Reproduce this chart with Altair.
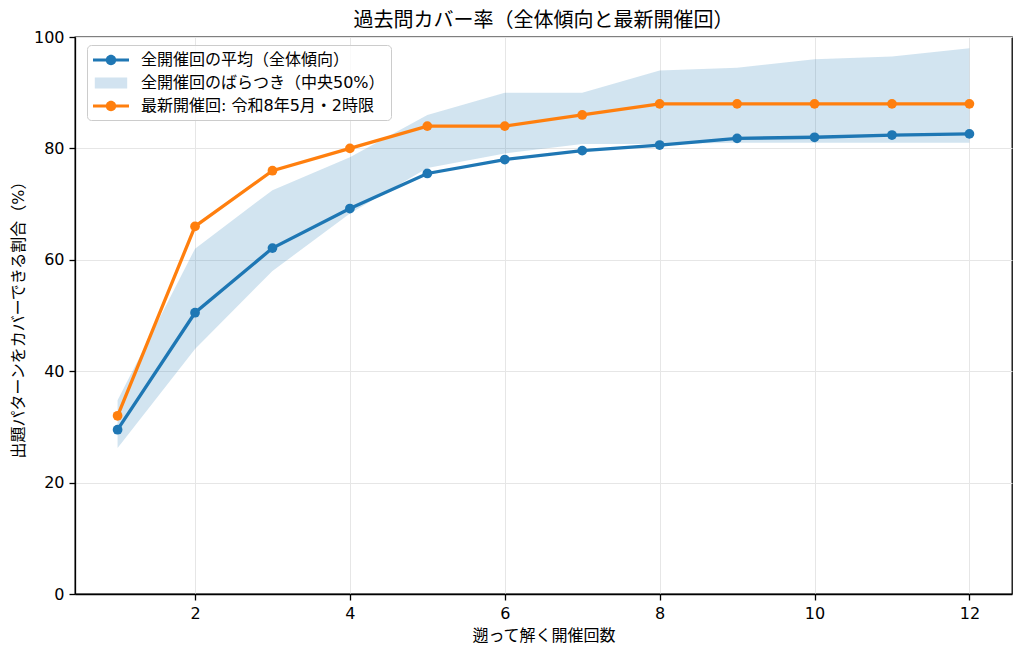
import altair as alt
import pandas as pd

# ---- data ----
kaisu = [1, 2, 3, 4, 5, 6, 7, 8, 9, 10, 11, 12]
mean_vals = [29.5, 50.5, 62.1, 69.2, 75.5, 78.0, 79.6, 80.6, 81.8, 82.0, 82.4, 82.6]
band_low = [26.2, 44.0, 58.0, 68.3, 76.5, 79.1, 80.8, 80.8, 81.0, 81.0, 81.0, 81.0]
band_high = [34.8, 62.0, 72.5, 78.4, 86.0, 90.0, 90.0, 94.0, 94.5, 96.0, 96.5, 98.0]
latest_vals = [32, 66, 76, 80, 84, 84, 86, 88, 88, 88, 88, 88]

series_names = [
    "全開催回の平均（全体傾向）",
    "全開催回のばらつき（中央50%）",
    "最新開催回: 令和8年5月・2時限",
]
series_colors = ["#1f77b4", "#d2e3f0", "#ff7f0e"]
x_ticks = [2, 4, 6, 8, 10, 12]
y_ticks = [0, 20, 40, 60, 80, 100]

TITLE = "過去問カバー率（全体傾向と最新開催回）"
X_TITLE = "遡って解く開催回数"
Y_TITLE = "出題パターンをカバーできる割合（%）"

FONT = "DejaVu Sans, Noto Sans CJK JP, sans-serif"

df = pd.DataFrame({
    "kaisu": kaisu,
    "mean": mean_vals,
    "low": band_low,
    "high": band_high,
    "latest": latest_vals,
})
legend_df = pd.DataFrame({"series": series_names})

# legend symbol shapes (line with marker, filled box, line with marker)
LINE_DOT = ("M-1,-0.18H3V0.18H-1Z"
            "M0.42,0A0.58,0.58 0 1,1 1.58,0A0.58,0.58 0 1,1 0.42,0Z")
BOX = "M-0.8,-0.6H2.8V0.6H-0.8Z"

x_enc = alt.X(
    "kaisu:Q",
    scale=alt.Scale(domain=[0.45, 12.55], nice=False, zero=False),
    axis=alt.Axis(values=x_ticks, title=X_TITLE, format="d"),
)
y_scale = alt.Scale(domain=[0, 100], nice=False)
y_axis = alt.Axis(values=y_ticks, title=Y_TITLE)

base = alt.Chart(df)

mean_line = base.mark_line(color="#1f77b4", strokeWidth=3.3).encode(
    x=x_enc, y=alt.Y("mean:Q", scale=y_scale, axis=y_axis)
)
mean_pts = base.mark_point(filled=True, color="#1f77b4", size=95, opacity=1).encode(
    x=x_enc, y=alt.Y("mean:Q", scale=y_scale)
)
band = base.mark_area(color="#1f77b4", opacity=0.2).encode(
    x=x_enc, y=alt.Y("low:Q", scale=y_scale), y2="high:Q"
)
latest_line = base.mark_line(color="#ff7f0e", strokeWidth=3.3).encode(
    x=x_enc, y=alt.Y("latest:Q", scale=y_scale)
)
latest_pts = base.mark_point(filled=True, color="#ff7f0e", size=95, opacity=1).encode(
    x=x_enc, y=alt.Y("latest:Q", scale=y_scale)
)

legend_layer = alt.Chart(legend_df).mark_point(filled=True, opacity=1).encode(
    color=alt.Color(
        "series:N",
        scale=alt.Scale(domain=series_names, range=series_colors),
        legend=alt.Legend(
            title=None,
            orient="none",
            legendX=12,
            legendY=8,
            labelFontSize=16,
            labelFont=FONT,
            labelColor="#000000",
            labelLimit=0,
            labelOffset=30,
            symbolSize=324,
            rowPadding=6,
            padding=6,
            strokeColor="#cccccc",
            fillColor="rgba(255,255,255,0.8)",
            cornerRadius=4,
            symbolStrokeWidth=0,
        ),
    ),
    shape=alt.Shape(
        "series:N",
        scale=alt.Scale(domain=series_names, range=[LINE_DOT, BOX, LINE_DOT]),
        legend=alt.Legend(title=None, orient="none", legendX=12, legendY=8, labelLimit=0),
    ),
).transform_filter("false")

chart = alt.layer(
    mean_line, mean_pts, band, latest_line, latest_pts, legend_layer
).properties(
    width=937,
    height=557,
    title=alt.TitleParams(
        TITLE, fontSize=20, fontWeight="normal", font=FONT, color="#000000", offset=-2
    ),
    autosize=alt.AutoSizeParams(type="none"),
    padding={"left": 67, "top": 29, "right": 4, "bottom": 50},
).configure_view(
    stroke="#000000", strokeWidth=1.3
).configure_axis(
    labelFont=FONT,
    labelFontSize=16,
    labelColor="#000000",
    titleFont=FONT,
    titleFontSize=16,
    titleFontWeight="normal",
    titleColor="#000000",
    domainColor="#000000",
    domainWidth=1.3,
    tickColor="#000000",
    tickSize=6,
    tickWidth=1.3,
    labelPadding=5,
    gridColor="#e6e6e6",
    gridWidth=1,
).configure_axisX(
    titlePadding=6,
).configure_axisY(
    titlePadding=7,
)

chart.save("out.html", embed_options={"renderer": "svg", "actions": False})
